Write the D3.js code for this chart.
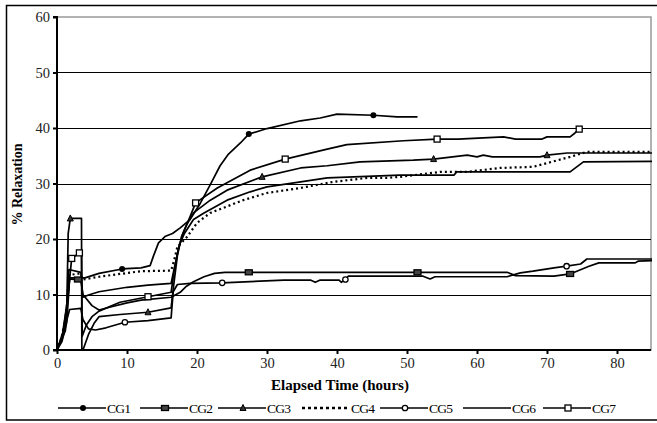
<!DOCTYPE html>
<meta charset="utf-8">
<script src="https://d3js.org/d3.v7.min.js"></script>
<style>
  body { margin: 0; background: #fff; }
</style>
<div id="chart"></div>
<script>
// series values: [hours, % relaxation]
var cg1 = [[0,0],[0.5,1.5],[1.2,3.5],[1.6,10],[1.8,13],[3.5,13],[4,13],[6,13.8],[9.3,14.6],[12,14.8],[13.3,15.2],[13.8,17],[14.5,19.3],[15.5,20.5],[16.5,21],[17.6,22],[19,23.5],[20.5,26.5],[21.9,29.8],[23.3,33.2],[24.5,35.3],[26.2,37.3],[27.4,38.9],[30,39.9],[34.8,41.3],[37.6,41.8],[40,42.5],[45.2,42.3],[48.6,42],[51.5,42]];
var cg2 = [[0,0],[0.7,1.5],[1.4,5],[1.8,12.8],[3.4,12.6],[3.7,10],[5,8],[6,7.2],[7.5,7.7],[10,8.5],[12,9],[16.3,9.5],[17.6,10.4],[18.5,11.5],[19.5,12.3],[21,13.2],[22.5,13.8],[24,14],[40,14],[64.3,14],[65.5,13.4],[71,13.3],[73.3,13.7],[76,15.1],[77.4,15.7],[82.6,15.7],[83,16],[85,16.1]];
var cg3 = [[0,0],[0.8,2.5],[1.4,8],[1.6,21],[1.9,23.7],[3.5,23.7],[3.55,0],[3.8,0.3],[4.5,2.8],[5.3,4.8],[6,6],[9,6.4],[13,6.8],[16.3,7.6],[16.7,12],[17.2,17],[17.8,20.5],[18.5,22.5],[19.5,24.7],[21.9,27],[24.3,28.8],[29.3,31.2],[34.8,32.8],[38.6,33.2],[43.3,33.9],[50.9,34.2],[53.8,34.4],[58.6,35.1],[60,34.8],[60.9,35.1],[62.2,34.8],[69,34.8],[70,35.1],[72.9,35.5],[85,35.5]];
var cg4 = [[0,0],[0.6,2],[1.3,6],[1.7,13.5],[3.3,13.8],[3.7,12.7],[6,13.2],[9,13.7],[12,14.2],[16.3,14.3],[16.7,16],[17.2,18.6],[18.6,20.4],[20,22.9],[21.9,24.7],[26.6,27],[30,28.3],[34.8,29.2],[39.5,30.3],[44.3,31],[47.2,31],[49,31.2],[54.8,32.1],[58.6,32.1],[63.3,32.8],[68,33],[69.5,33.5],[73.3,34.8],[75.7,35.7],[85,35.7]];
var cg5 = [[0,0],[0.8,2.5],[1.8,7.3],[3.4,7.5],[3.7,5.5],[4.5,3.8],[5.5,3.6],[7,4],[9.7,5],[13,5.3],[16.3,5.8],[16.6,10.5],[17.2,11.8],[19,12],[23.6,12.1],[32.4,12.6],[36.2,12.6],[36.9,12.2],[37.6,12.6],[40.3,12.6],[40.6,12.2],[41.2,12.7],[41.6,13.3],[52.3,13.3],[53.3,12.8],[54,13.2],[64.3,13.2],[66.2,13.9],[68,14.2],[71,14.8],[72.8,15.1],[74.8,15.5],[75.7,16.4],[85,16.4]];
var cg6 = [[0,0],[0.7,2],[1.4,7],[1.7,14.5],[3.4,14],[3.7,9.5],[4.5,9.9],[6,10.5],[8,10.9],[10,11.3],[13,11.7],[16.3,12],[16.8,15],[17.5,19],[18.2,21],[19.5,23.5],[21,24.7],[24.3,27],[27.6,28.5],[30,29.4],[34.8,30.3],[38.6,31],[49,31.5],[56.7,31.5],[57.1,32.1],[73.3,32.1],[75.2,33.9],[85,34]];
var cg7 = [[0,0],[0.8,3],[1.5,9],[2.1,16.5],[3.2,17.5],[3.5,18],[3.6,2.5],[4.2,4.5],[5,6],[6,7],[9,8.6],[13,9.6],[16.3,10.4],[16.7,14],[17.3,18],[18,21],[19,24],[19.8,26.5],[22.9,29.2],[27.6,32.4],[32.6,34.4],[38.6,36.2],[41.4,37],[49.5,37.7],[54.3,38],[57.3,38],[63.8,38.4],[65.5,38],[69.3,38],[70,38.4],[73.3,38.4],[74,39.1],[74.6,39.8]];

// marker points shown on each line
var cg1Marks = [[9.3,14.6],[27.4,38.9],[45.2,42.3]];
var cg2Marks = [[3,12.7],[27.4,14],[51.5,14],[73.3,13.7]];
var cg3Marks = [[1.9,23.7],[13,6.8],[29.3,31.2],[53.8,34.4],[70,35.1]];
var cg5Marks = [[9.7,5],[23.6,12.1],[41.2,12.7],[72.8,15.1]];
var cg7Marks = [[2.1,16.5],[3.2,17.5],[13,9.6],[19.8,26.5],[32.6,34.4],[54.3,38],[74.6,39.8]];

var names = ['CG1', 'CG2', 'CG3', 'CG4', 'CG5', 'CG6', 'CG7'];
var xTicks = [0, 10, 20, 30, 40, 50, 60, 70, 80];
var yTicks = [0, 10, 20, 30, 40, 50, 60];

var series = [
  {name: names[0], values: cg1, marks: cg1Marks, shape: 'dot'},
  {name: names[1], values: cg2, marks: cg2Marks, shape: 'fsquare'},
  {name: names[2], values: cg3, marks: cg3Marks, shape: 'tri'},
  {name: names[3], values: cg4, marks: [], shape: 'none', dash: '2,3'},
  {name: names[4], values: cg5, marks: cg5Marks, shape: 'ocircle'},
  {name: names[5], values: cg6, marks: [], shape: 'none'},
  {name: names[6], values: cg7, marks: cg7Marks, shape: 'osquare'}
];

var FONT = 'Liberation Serif, Times New Roman, Times, serif';
var W = 657, H = 423;
var margin = {top: 17, left: 57};
var width = 652 - margin.left, height = 350 - margin.top;

var svg = d3.select('#chart').append('svg')
  .attr('width', W).attr('height', H);

// outer frame
svg.append('rect')
  .attr('x', 6.5).attr('y', 5.5)
  .attr('width', 660).attr('height', 414.5)
  .attr('fill', 'none').attr('stroke', '#000').attr('stroke-width', 1.5);

var g = svg.append('g').attr('transform', 'translate(' + margin.left + ',' + margin.top + ')');

var x = d3.scaleLinear().domain([0, 85]).range([0, width]);
var y = d3.scaleLinear().domain([0, 60]).range([height, 0]);

// plot area border (grey)
g.append('rect')
  .attr('x', 0).attr('y', 0).attr('width', x(85) - 1).attr('height', height)
  .attr('fill', 'none').attr('stroke', '#999').attr('stroke-width', 1.5);

// gridlines
g.selectAll('.grid').data(yTicks.filter(d => d > 0 && d < 60))
  .enter().append('line')
  .attr('x1', 0).attr('x2', x(85) - 1)
  .attr('y1', d => Math.round(y(d)) + 0.5).attr('y2', d => Math.round(y(d)) + 0.5)
  .attr('stroke', '#000').attr('stroke-width', 1);

// axes
var yAxis = d3.axisLeft(y).tickValues(yTicks).tickSize(4).tickPadding(3);
var xAxis = d3.axisBottom(x).tickValues(xTicks).tickSize(4).tickPadding(4);

var yg = g.append('g').call(yAxis);
var xg = g.append('g').attr('transform', 'translate(0,' + height + ')').call(xAxis);
[yg, xg].forEach(function(a) {
  a.attr('font-family', null).attr('font-size', null);
  a.select('.domain').attr('stroke', '#000').attr('stroke-width', 2);
  a.selectAll('.tick line').attr('stroke', '#000').attr('stroke-width', 2);
  a.selectAll('.tick text').attr('fill', '#222')
    .style('font-family', FONT).style('font-size', '14.5px');
});
yg.select('.domain').attr('d', 'M-4,' + height + 'H0V0H-4');
xg.select('.domain').attr('d', 'M0,0H' + (x(85) - 1));

// axis titles
svg.append('text')
  .attr('transform', 'translate(22,' + (margin.top + height / 2 + 1) + ') rotate(-90)')
  .attr('text-anchor', 'middle')
  .style('font-family', FONT).style('font-size', '14px').style('font-weight', 'bold')
  .text('% Relaxation');
svg.append('text')
  .attr('x', 340).attr('y', 390)
  .attr('text-anchor', 'middle')
  .style('font-family', FONT).style('font-size', '15px').style('font-weight', 'bold')
  .text('Elapsed Time (hours)');

var line = d3.line().x(d => x(d[0])).y(d => y(d[1]));

svg.append('clipPath').attr('id', 'clip')
  .append('rect').attr('x', 0).attr('y', -2).attr('width', width).attr('height', height + 4);

var plot = g.append('g').attr('clip-path', 'url(#clip)');

series.forEach(function(s) {
  plot.append('path')
    .datum(s.values)
    .attr('d', line)
    .attr('fill', 'none')
    .attr('stroke', '#000')
    .attr('stroke-width', s.dash ? 2.2 : 1.7)
    .attr('stroke-dasharray', s.dash || null)
    .attr('stroke-linejoin', 'round');
});

function drawMarker(sel, shape, cx, cy) {
  if (shape === 'dot') {
    sel.append('circle').attr('cx', cx).attr('cy', cy).attr('r', 3).attr('fill', '#000');
  } else if (shape === 'ocircle') {
    sel.append('circle').attr('cx', cx).attr('cy', cy).attr('r', 2.7)
      .attr('fill', '#fff').attr('stroke', '#000').attr('stroke-width', 1.3);
  } else if (shape === 'fsquare') {
    sel.append('rect').attr('x', cx - 3.5).attr('y', cy - 2.5).attr('width', 7).attr('height', 5)
      .attr('fill', '#444').attr('stroke', '#000').attr('stroke-width', 1.3);
  } else if (shape === 'osquare') {
    sel.append('rect').attr('x', cx - 3).attr('y', cy - 3).attr('width', 6).attr('height', 6)
      .attr('fill', '#fff').attr('stroke', '#000').attr('stroke-width', 1.3);
  } else if (shape === 'tri') {
    sel.append('path')
      .attr('d', 'M' + cx + ',' + (cy - 3.5) + 'L' + (cx + 3) + ',' + (cy + 2.5) + 'L' + (cx - 3) + ',' + (cy + 2.5) + 'Z')
      .attr('fill', '#333').attr('stroke', '#000').attr('stroke-width', 1);
  }
}

series.forEach(function(s) {
  s.marks.forEach(function(m) { drawMarker(plot, s.shape, x(m[0]), y(m[1])); });
});

// legend
var legendX = [58, 140, 218, 302, 380, 463, 543];
var legend = svg.append('g').attr('transform', 'translate(0,408)');
series.forEach(function(s, i) {
  var lx = legendX[i];
  legend.append('line')
    .attr('x1', lx).attr('x2', lx + 48).attr('y1', 0).attr('y2', 0)
    .attr('stroke', '#000').attr('stroke-width', s.dash ? 2.5 : 1.5)
    .attr('stroke-dasharray', s.dash ? '3,3' : null);
  drawMarker(legend, s.shape, lx + 25, 0);
  legend.append('text')
    .attr('x', lx + 49).attr('y', 5)
    .style('font-family', FONT).style('font-size', '13.5px').style('letter-spacing', '-0.8px')
    .text(s.name);
});
</script>
